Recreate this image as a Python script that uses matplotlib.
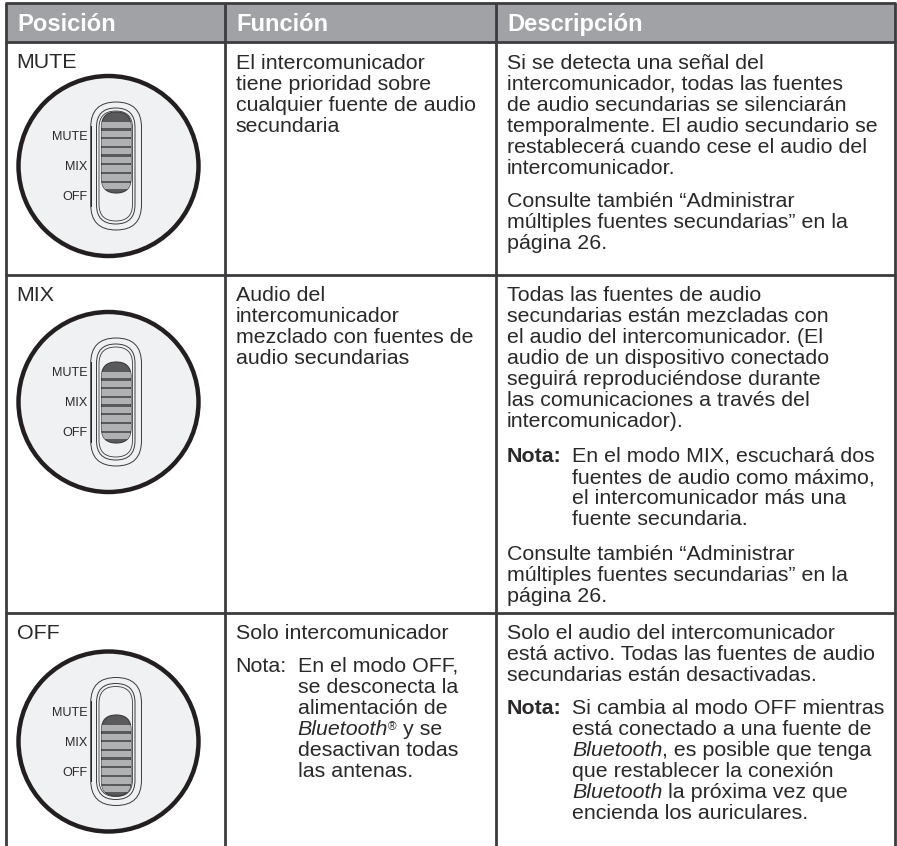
"""Tabla de posiciones del selector (MUTE / MIX / OFF), dibujada en coordenadas de pixel."""

import matplotlib

matplotlib.use("Agg")
import matplotlib.pyplot as plt
from matplotlib.patches import Circle, FancyBboxPatch, Rectangle

W, H = 897, 846
LINE_COLOR = "#3c3c3e"
HEADER_COLOR = "#a0a2a5"
TEXT_COLOR = "#2a2829"
DIAL_COLOR = "#f0f1f3"
FS = 15.4
PITCH = 21.0

HEADERS = ["Posición", "Función", "Descripción"]
POSITIONS = ["MUTE", "MIX", "OFF"]
SWITCH_LABELS = ["MUTE", "MIX", "OFF"]

COL_X = [5.5, 225, 495.5, 895]
ROW_Y = [3, 42, 275, 613]
DIAL_Y = [166, 402, 741.5]
KNOB_TOP = [112, 362, 715]
POS_BASE = [68.5, 301, 639]

FUNCION = [
    (69, ["El intercomunicador", "tiene prioridad sobre", "cualquier fuente de audio", "secundaria"]),
    (300.7, ["Audio del", "intercomunicador", "mezclado con fuentes de", "audio secundarias"]),
    (639, ["Solo intercomunicador"]),
]
NOTA_FUNCION = [
    [("En el modo OFF,", "n")],
    [("se desconecta la", "n")],
    [("alimentación de", "n")],
    [("Bluetooth", "i"), ("®", "s"), (" y se", "n")],
    [("desactivan todas", "n")],
    [("las antenas.", "n")],
]

DESCRIPCION = [
    (69, ["Si se detecta una señal del", "intercomunicador, todas las fuentes",
          "de audio secundarias se silenciarán", "temporalmente. El audio secundario se",
          "restablecerá cuando cese el audio del", "intercomunicador."]),
    (207, ["Consulte también “Administrar", "múltiples fuentes secundarias” en la", "página 26."]),
    (300.7, ["Todas las fuentes de audio", "secundarias están mezcladas con",
             "el audio del intercomunicador. (El", "audio de un dispositivo conectado",
             "seguirá reproduciéndose durante", "las comunicaciones a través del",
             "intercomunicador)."]),
    (560, ["Consulte también “Administrar", "múltiples fuentes secundarias” en la", "página 26."]),
    (639, ["Solo el audio del intercomunicador", "está activo. Todas las fuentes de audio",
           "secundarias están desactivadas."]),
]
NOTA_MIX = [
    [("En el modo MIX, escuchará dos", "n")],
    [("fuentes de audio como máximo,", "n")],
    [("el intercomunicador más una", "n")],
    [("fuente secundaria.", "n")],
]
NOTA_OFF = [
    [("Si cambia al modo OFF mientras", "n")],
    [("está conectado a una fuente de", "n")],
    [("Bluetooth", "i"), (", es posible que tenga", "n")],
    [("que restablecer la conexión", "n")],
    [("Bluetooth", "i"), (" la próxima vez que", "n")],
    [("encienda los auriculares.", "n")],
]

plt.rcParams["font.family"] = ["Liberation Sans", "DejaVu Sans"]
fig = plt.figure(figsize=(W / 100, H / 100), dpi=100)
ax = fig.add_axes([0, 0, 1, 1])
ax.set_xlim(0, W)
ax.set_ylim(H, 0)
ax.axis("off")


def put(x, y, s, weight="normal", style="normal", size=FS, color=TEXT_COLOR, ha="left"):
    return ax.text(x, y, s, fontsize=size, fontweight=weight, fontstyle=style, color=color,
                   ha=ha, va="baseline")


def put_runs(x, y, runs):
    # trozos de distinto estilo, uno detras de otro
    r = fig.canvas.get_renderer()
    for s, st in runs:
        if st == "s":
            t = put(x, y - 5, s, size=8.5)
        else:
            t = put(x, y, s, style="italic" if st == "i" else "normal")
        x = ax.transData.inverted().transform(t.get_window_extent(r))[1][0]


def put_nota(y0, x_label, x_text, label_weight, lines):
    put(x_label, y0, "Nota:", weight=label_weight)
    for i, runs in enumerate(lines):
        put_runs(x_text, y0 + i * PITCH, runs)


def rounded(x0, y0, x1, y1, **kw):
    rad = (x1 - x0) / 2
    p = FancyBboxPatch((x0 + rad, y0 + rad), 0, y1 - y0 - 2 * rad,
                       boxstyle=f"round,pad={rad},rounding_size={rad}", **kw)
    ax.add_patch(p)
    return p


def draw_dial(cy, knob_top):
    cx = 108.5
    ax.add_patch(Circle((cx, cy), 90, fc=DIAL_COLOR, ec="#231f20", lw=3.2))
    rounded(90.7, cy - 64, 141.5, cy + 64, fc=DIAL_COLOR, ec="#3a3a3a", lw=0.7)
    rounded(96.5, cy - 58, 135, cy + 58, fc=DIAL_COLOR, ec="#3a3a3a", lw=0.7)
    rounded(99, cy - 55, 132.5, cy + 55, fc=DIAL_COLOR, ec="#3a3a3a", lw=0.6)
    knob = rounded(101.5, knob_top, 131, knob_top + 81, fc="#5a5a5c", ec="#3a3a3a", lw=0.8)
    for i in range(8):
        bar = Rectangle((100, knob_top + 10 + i * 8.7), 33, 6.4, fc="#b0b1b3", ec="none")
        ax.add_patch(bar)
        bar.set_clip_path(knob)
    for label, dy in zip(SWITCH_LABELS, (-26, 4.5, 34.5)):
        put(87.5, cy + dy, label, size=9.1, ha="right")
    ax.plot([90.7, 90.7], [cy - 40, cy + 40], color="#231f20", lw=0.7)


# cabecera
ax.add_patch(Rectangle((COL_X[0], ROW_Y[0]), COL_X[3] - COL_X[0], ROW_Y[1] - ROW_Y[0], fc=HEADER_COLOR, ec="none"))
for x, label in zip(COL_X, HEADERS):
    put(x + 11.5, 30.7, label, weight="bold", size=17.1, color="white")

# rejilla
for x in COL_X:
    ax.plot([x, x], [ROW_Y[0], H], color=LINE_COLOR, lw=2.0, solid_capstyle="butt")
for y in ROW_Y:
    ax.plot([COL_X[0] - 1, COL_X[3] + 1], [y, y], color=LINE_COLOR, lw=2.0, solid_capstyle="butt")

# columna posicion
for y, label, dy, kt in zip(POS_BASE, POSITIONS, DIAL_Y, KNOB_TOP):
    put(16.7, y, label)
    draw_dial(dy, kt)

# columna funcion
for y0, lines in FUNCION:
    for i, s in enumerate(lines):
        put(235.7, y0 + i * PITCH, s)
put_nota(671.7, 235.7, 297.7, "normal", NOTA_FUNCION)

# columna descripcion
for y0, lines in DESCRIPCION:
    for i, s in enumerate(lines):
        put(506.7, y0 + i * PITCH, s)
put_nota(462, 506.7, 572, "bold", NOTA_MIX)
put_nota(714.3, 506.7, 572, "bold", NOTA_OFF)

fig.savefig("out.png", dpi=100)
